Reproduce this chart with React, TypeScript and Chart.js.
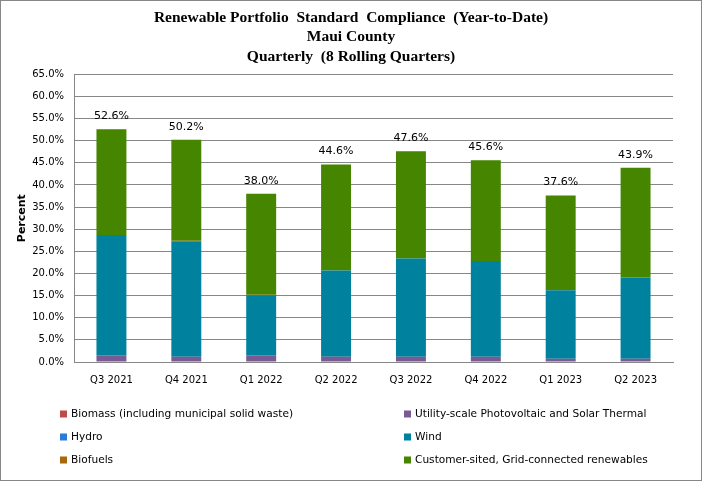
import React, { useEffect, useRef } from "react";
import { Chart, registerables } from "chart.js";

Chart.register(...registerables);

const categories = ["Q3 2021", "Q4 2021", "Q1 2022", "Q2 2022", "Q3 2022", "Q4 2022", "Q1 2023", "Q2 2023"];
const biomass = [0, 0, 0, 0, 0, 0, 0, 0];
const utilityPV = [1.5, 1.2, 1.5, 1.2, 1.2, 1.2, 0.75, 0.75];
const hydro = [0, 0, 0, 0, 0, 0, 0, 0];
const wind = [27.2, 26.1, 13.6, 19.5, 22.2, 21.6, 15.45, 18.35];
const biofuels = [0, 0.1, 0.1, 0, 0, 0, 0, 0];
const customerSited = [23.9, 22.8, 22.8, 23.9, 24.2, 22.8, 21.4, 24.8];
const totals = [52.6, 50.2, 38.0, 44.6, 47.6, 45.6, 37.6, 43.9];
const yTicks = [0, 5, 10, 15, 20, 25, 30, 35, 40, 45, 50, 55, 60, 65];
const titleLines = [
  "Renewable Portfolio  Standard  Compliance  (Year-to-Date)",
  "Maui County",
  "Quarterly  (8 Rolling Quarters)",
];

const seriesNames = [
  "Biomass (including municipal solid waste)",
  "Utility-scale Photovoltaic and Solar Thermal",
  "Hydro",
  "Wind",
  "Biofuels",
  "Customer-sited, Grid-connected renewables",
];
const seriesColors = ["#BE4B48", "#7A5A92", "#2A7BDA", "#00819E", "#A8690C", "#458500"];

const FONT = "'DejaVu Sans', Tahoma, sans-serif";
const TITLE_FONT = "bold 15.5px 'Liberation Serif', 'Times New Roman', serif";

const extrasPlugin = {
  id: "extras",
  afterDatasetsDraw(chart: any) {
    const ctx = chart.ctx;
    const lastMeta = chart.getDatasetMeta(chart.data.datasets.length - 1);
    ctx.save();
    ctx.fillStyle = "#000";
    ctx.font = `11px ${FONT}`;
    ctx.textAlign = "center";
    ctx.textBaseline = "middle";
    lastMeta.data.forEach((el: any, i: number) => {
      ctx.fillText(totals[i].toFixed(1) + "%", el.x, el.y - 13);
    });
    ctx.restore();
  },
  afterDraw(chart: any) {
    const ctx = chart.ctx;
    ctx.save();
    // title centred on the whole canvas
    ctx.font = TITLE_FONT;
    ctx.fillStyle = "#000";
    ctx.textAlign = "center";
    ctx.textBaseline = "middle";
    titleLines.forEach((t, i) => {
      ctx.fillText(t, chart.width / 2, 17.75 + i * 19.5);
    });
    // legend in two columns
    const colX = [60, 404];
    const rowY = [414, 437, 460];
    ctx.font = `10.6px ${FONT}`;
    ctx.textBaseline = "middle";
    ctx.textAlign = "left";
    chart.data.datasets.forEach((ds: any, i: number) => {
      const c = i % 2;
      const r = Math.floor(i / 2);
      const x = colX[c];
      const y = rowY[r];
      ctx.fillStyle = ds.backgroundColor;
      ctx.fillRect(x, y - 3.5, 7, 7);
      ctx.fillStyle = "#000";
      ctx.fillText(ds.label, x + 11, y);
    });
    // outer border
    ctx.strokeStyle = "#878787";
    ctx.lineWidth = 1;
    ctx.strokeRect(0.5, 0.5, chart.width - 1, chart.height - 1);
    ctx.restore();
  },
};

export default function App() {
  const canvasRef = useRef<HTMLCanvasElement | null>(null);

  useEffect(() => {
    document.body.style.margin = "0";
    const canvas = canvasRef.current!;
    const series = [biomass, utilityPV, hydro, wind, biofuels, customerSited];
    const chart = new Chart(canvas, {
      type: "bar",
      data: {
        labels: categories,
        datasets: series.map((d, i) => ({
          label: seriesNames[i],
          data: d,
          backgroundColor: seriesColors[i],
          borderWidth: 0,
          barPercentage: 0.4,
          categoryPercentage: 1,
          stack: "s",
        })),
      },
      options: {
        animation: false,
        responsive: false,
        maintainAspectRatio: false,
        devicePixelRatio: 1,
        layout: { padding: { left: 0, right: 29, top: 0, bottom: 89 } },
        plugins: {
          legend: { display: false },
          tooltip: { enabled: false },
          title: {
            // reserves the space; the visible text is drawn by the plugin, centred on the canvas
            display: true,
            text: titleLines,
            color: "rgba(0,0,0,0)",
            font: { family: "'Liberation Serif', 'Times New Roman', serif", size: 15.5, weight: "bold", lineHeight: 1.26 },
            padding: { top: 8, bottom: 7.7 },
          },
        },
        scales: {
          x: {
            stacked: true,
            grid: { display: false, drawTicks: false },
            border: { display: true, color: "#878787", width: 1 },
            ticks: { color: "#000", font: { family: FONT, size: 10 }, padding: 12, maxRotation: 0 },
            afterFit(scale: any) {
              scale.height = 30;
            },
          },
          y: {
            stacked: true,
            min: 0,
            max: 65,
            afterBuildTicks(scale: any) {
              scale.ticks = yTicks.map((v) => ({ value: v }));
            },
            grid: { color: "#878787", lineWidth: 1, drawTicks: false },
            border: { display: true, color: "#878787", width: 1 },
            ticks: {
              color: "#000",
              font: { family: FONT, size: 10 },
              padding: 10,
              callback: (v: any) => Number(v).toFixed(1) + "%",
            },
            title: {
              display: true,
              text: "Percent",
              color: "#000",
              font: { family: FONT, size: 11, weight: "bold" },
              padding: { top: 16, bottom: 0 },
            },
            afterFit(scale: any) {
              scale.width = 74;
            },
          },
        },
      },
      plugins: [extrasPlugin],
    });
    return () => chart.destroy();
  }, []);

  return <canvas ref={canvasRef} width={702} height={481} style={{ display: "block" }} />;
}
